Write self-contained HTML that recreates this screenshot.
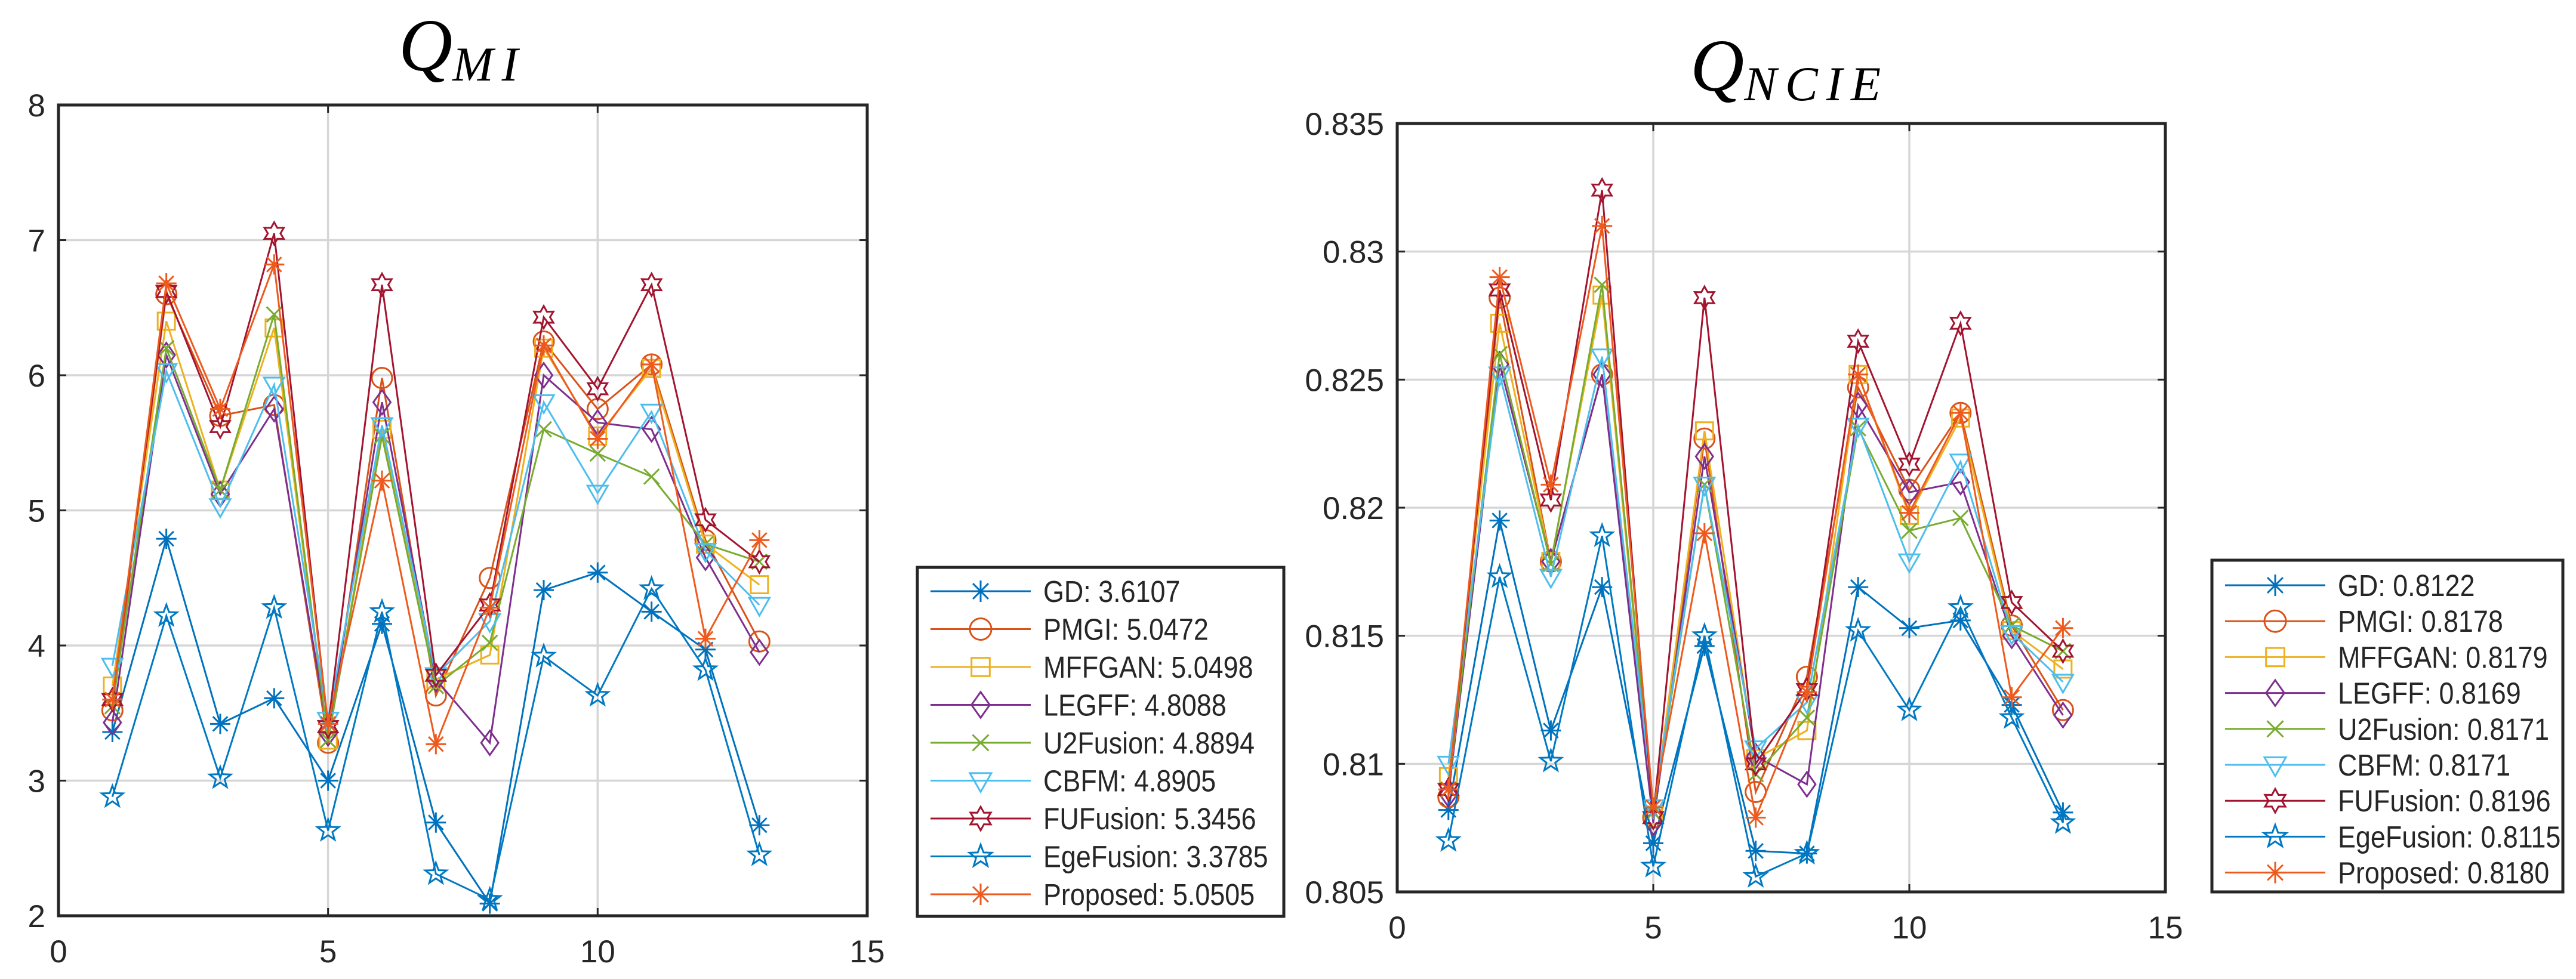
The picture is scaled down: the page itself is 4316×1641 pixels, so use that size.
<!DOCTYPE html>
<html><head><meta charset="utf-8"><style>
html,body{margin:0;padding:0;background:#fff;}
svg{display:block;}
text{font-family:"Liberation Sans",sans-serif;fill:#262626;}
.ttl{font-family:"Liberation Serif",serif;font-style:italic;fill:#000;}
</style></head><body>
<svg id="fig" width="4316" height="1641" viewBox="0 0 4316 1641" xmlns="http://www.w3.org/2000/svg">
<text class="ttl" x="668" y="118" font-size="125">Q<tspan font-size="82" dy="17" letter-spacing="14">MI</tspan></text>
<text class="ttl" x="2832" y="152" font-size="125">Q<tspan font-size="82" dy="16" letter-spacing="14">NCIE</tspan></text>
</svg>
<script>
const names = ["GD","PMGI","MFFGAN","LEGFF","U2Fusion","CBFM","FUFusion","EgeFusion","Proposed"];
const colors = ["#0072BD","#D95319","#EDB120","#7E2F8E","#77AC30","#4DBEEE","#A2142F","#0079C2","#EE5A1E"];
const markers = ["star","circle","square","diamond","x","tri","hex","pent","star"];
const xCats = [1,2,3,4,5,6,7,8,9,10,11,12,13];
const miMeans = ["3.6107","5.0472","5.0498","4.8088","4.8894","4.8905","5.3456","3.3785","5.0505"];
const ncieMeans = ["0.8122","0.8178","0.8179","0.8169","0.8171","0.8171","0.8196","0.8115","0.8180"];
const miGD = [3.36,4.79,3.42,3.61,3.0,4.16,2.69,2.09,4.41,4.54,4.25,3.97,2.67];
const miPMGI = [3.52,6.60,5.70,5.78,3.28,5.98,3.63,4.50,6.25,5.75,6.08,4.78,4.03];
const miMFFGAN = [3.70,6.40,5.15,6.35,3.30,5.60,3.75,3.93,6.20,5.55,6.05,4.75,4.45];
const miLEGFF = [3.43,6.15,5.12,5.75,3.35,5.80,3.75,3.28,6.00,5.65,5.60,4.65,3.95];
const miU2 = [3.55,6.20,5.15,6.45,3.30,5.55,3.70,4.02,5.60,5.42,5.25,4.75,4.62];
const miCBFM = [3.85,6.03,5.03,5.93,3.45,5.63,3.78,4.18,5.80,5.13,5.73,4.70,4.30];
const miFU = [3.60,6.62,5.62,7.05,3.40,6.67,3.78,4.30,6.43,5.90,6.67,4.93,4.62];
const miEge = [2.88,4.22,3.02,4.28,2.63,4.25,2.31,2.12,3.92,3.63,4.42,3.82,2.45];
const miProp = [3.60,6.68,5.75,6.82,3.42,5.22,3.27,4.28,6.22,5.53,6.08,4.05,4.78];
const nGD = [0.8082,0.8195,0.8113,0.8169,0.8069,0.8146,0.8066,0.8065,0.8169,0.8153,0.8156,0.8123,0.8081];
const nPMGI = [0.8087,0.8282,0.8179,0.8252,0.8079,0.8227,0.8089,0.8134,0.8247,0.8207,0.8237,0.8154,0.8121];
const nMFFGAN = [0.8095,0.8272,0.8179,0.8283,0.8080,0.8230,0.8102,0.8113,0.8252,0.8197,0.8235,0.8152,0.8137];
const nLEGFF = [0.8088,0.8256,0.8179,0.8252,0.8077,0.8220,0.8103,0.8092,0.8240,0.8206,0.8210,0.8150,0.8119];
const nU2 = [0.8090,0.8260,0.8178,0.8287,0.8081,0.8209,0.8096,0.8118,0.8231,0.8191,0.8196,0.8154,0.8144];
const nCBFM = [0.8100,0.8252,0.8173,0.8259,0.8083,0.8209,0.8106,0.8124,0.8232,0.8179,0.8218,0.8151,0.8132];
const nFU = [0.8090,0.8285,0.8203,0.8324,0.8079,0.8282,0.8100,0.8129,0.8265,0.8217,0.8272,0.8163,0.8144];
const nEge = [0.8070,0.8173,0.8101,0.8189,0.8060,0.8150,0.8056,0.8065,0.8152,0.8121,0.8161,0.8118,0.8077];
const nProp = [0.8090,0.8290,0.8209,0.8310,0.8083,0.8190,0.8079,0.8128,0.8252,0.8198,0.8237,0.8126,0.8153];
const xTicks = [0,5,10,15];
const miYTicks = [2,3,4,5,6,7,8];
const ncieYTicks = [0.805,0.81,0.815,0.82,0.825,0.83,0.835];
const ncieYLabels = ["0.805","0.81","0.815","0.82","0.825","0.83","0.835"];

const NS="http://www.w3.org/2000/svg";
const svg=document.getElementById('fig');
function el(tag,attrs,parent){const e=document.createElementNS(NS,tag);for(const k in attrs)e.setAttribute(k,attrs[k]);(parent||svg).appendChild(e);return e;}

function marker(g,type,cx,cy,c,r){
  let e;
  const sw=3;
  if(type==="circle"){e=el('circle',{cx:cx,cy:cy,r:r,fill:'none',stroke:c,'stroke-width':sw},g);}
  else if(type==="square"){e=el('rect',{x:cx-r*0.85,y:cy-r*0.85,width:r*1.7,height:r*1.7,fill:'none',stroke:c,'stroke-width':sw},g);}
  else if(type==="diamond"){e=el('polygon',{points:`${cx},${cy-r*1.2} ${cx+r*0.85},${cy} ${cx},${cy+r*1.2} ${cx-r*0.85},${cy}`,fill:'none',stroke:c,'stroke-width':sw},g);}
  else if(type==="tri"){e=el('polygon',{points:`${cx-r},${cy-r*0.7} ${cx+r},${cy-r*0.7} ${cx},${cy+r*1.05}`,fill:'none',stroke:c,'stroke-width':sw},g);}
  else if(type==="x"){const d=r*0.75;e=el('path',{d:`M${cx-d},${cy-d}L${cx+d},${cy+d}M${cx-d},${cy+d}L${cx+d},${cy-d}`,stroke:c,'stroke-width':sw,fill:'none'},g);}
  else if(type==="star"){const d=r*0.72;e=el('path',{d:`M${cx-r},${cy}L${cx+r},${cy}M${cx},${cy-r}L${cx},${cy+r}M${cx-d},${cy-d}L${cx+d},${cy+d}M${cx-d},${cy+d}L${cx+d},${cy-d}`,stroke:c,'stroke-width':sw,fill:'none'},g);}
  else if(type==="hex"){let p=[];for(let i=0;i<12;i++){const a=Math.PI/6*i-Math.PI/2;const rr=i%2===0?r*1.1:r*0.62;p.push((cx+rr*Math.cos(a)).toFixed(1)+','+(cy+rr*Math.sin(a)).toFixed(1));}e=el('polygon',{points:p.join(' '),fill:'none',stroke:c,'stroke-width':sw},g);}
  else if(type==="pent"){let p=[];for(let i=0;i<10;i++){const a=Math.PI/5*i-Math.PI/2;const rr=i%2===0?r*1.1:r*0.45;p.push((cx+rr*Math.cos(a)).toFixed(1)+','+(cy+rr*Math.sin(a)).toFixed(1));}e=el('polygon',{points:p.join(' '),fill:'none',stroke:c,'stroke-width':sw},g);}
  return e;
}

function chart(cfg){
  const {L,R,T,B,ymin,ymax,yTicks,yLabels,series,means,leg,key}=cfg;
  const xs=v=>L+(v-0)/(15-0)*(R-L);
  const ys=v=>B-(v-ymin)/(ymax-ymin)*(B-T);
  const g=el('g',{});
  
  
  const grid=el('g',{},g);
  
  
  xTicks.forEach(t=>{if(t>0&&t<15)el('line',{x1:xs(t),x2:xs(t),y1:T,y2:B,stroke:'#d6d6d6','stroke-width':3.5},grid);});
  yTicks.forEach(t=>{if(t>ymin+1e-9&&t<ymax-1e-9)el('line',{x1:L,x2:R,y1:ys(t),y2:ys(t),stroke:'#d6d6d6','stroke-width':3.5},grid);});
  xTicks.forEach(t=>{el('line',{x1:xs(t),x2:xs(t),y1:B,y2:B-13,stroke:'#262626','stroke-width':3},g);el('line',{x1:xs(t),x2:xs(t),y1:T,y2:T+13,stroke:'#262626','stroke-width':3},g);
    const tx=el('text',{x:xs(t),y:B+78,'font-size':53,'text-anchor':'middle'},g);tx.textContent=t;
    
    });
  yTicks.forEach((t,i)=>{el('line',{x1:L,x2:L+13,y1:ys(t),y2:ys(t),stroke:'#262626','stroke-width':3},g);el('line',{x1:R,x2:R-13,y1:ys(t),y2:ys(t),stroke:'#262626','stroke-width':3},g);
    const tx=el('text',{x:L-22,y:ys(t)+19,'font-size':53,'text-anchor':'end'},g);tx.textContent=yLabels[i];
    
    });
  series.forEach((vals,si)=>{
    const sg=el('g',{},g);
    
    
    const d=vals.map((v,i)=>(i?'L':'M')+xs(xCats[i]).toFixed(1)+','+ys(v).toFixed(1)).join('');
    el('path',{d:d,fill:'none',stroke:colors[si],'stroke-width':3},sg);
    vals.forEach((v,i)=>{const m=marker(sg,markers[si],xs(xCats[i]),ys(v),colors[si],17);
      
      });
  });
  el('rect',{x:L,y:T,width:R-L,height:B-T,fill:'none',stroke:'#262626','stroke-width':5},g);
  const lg=el('g',{},g);
  
  
  el('rect',{x:leg.x,y:leg.y,width:leg.w,height:leg.h,fill:'#fff',stroke:'#262626','stroke-width':5},lg);
  names.forEach((n,i)=>{
    const yy=leg.y+leg.first+i*leg.step;
    const e=el('g',{},lg);
    
    
    el('line',{x1:leg.x+22,x2:leg.x+190,y1:yy,y2:yy,stroke:colors[i],'stroke-width':3},e);
    marker(e,markers[i],leg.x+106,yy,colors[i],18);
    const t=el('text',{x:0,y:0,'font-size':51,transform:`translate(${leg.x+211},${yy+18}) scale(0.88,1)`},e);
    t.textContent=n+': '+means[i];
  });
}
chart({key:'qmi',L:98,R:1453,T:176,B:1535,ymin:2,ymax:8,yTicks:miYTicks,yLabels:miYTicks.map(String),
  series:[miGD,miPMGI,miMFFGAN,miLEGFF,miU2,miCBFM,miFU,miEge,miProp],means:miMeans,
  leg:{x:1537,y:951,w:614,h:585,first:40,step:63.5}});
chart({key:'qncie',L:2341,R:3628,T:207,B:1495,ymin:0.805,ymax:0.835,yTicks:ncieYTicks,yLabels:ncieYLabels,
  series:[nGD,nPMGI,nMFFGAN,nLEGFF,nU2,nCBFM,nFU,nEge,nProp],means:ncieMeans,
  leg:{x:3706,y:939,w:588,h:556,first:42,step:60.2}});
</script>
</body></html>
